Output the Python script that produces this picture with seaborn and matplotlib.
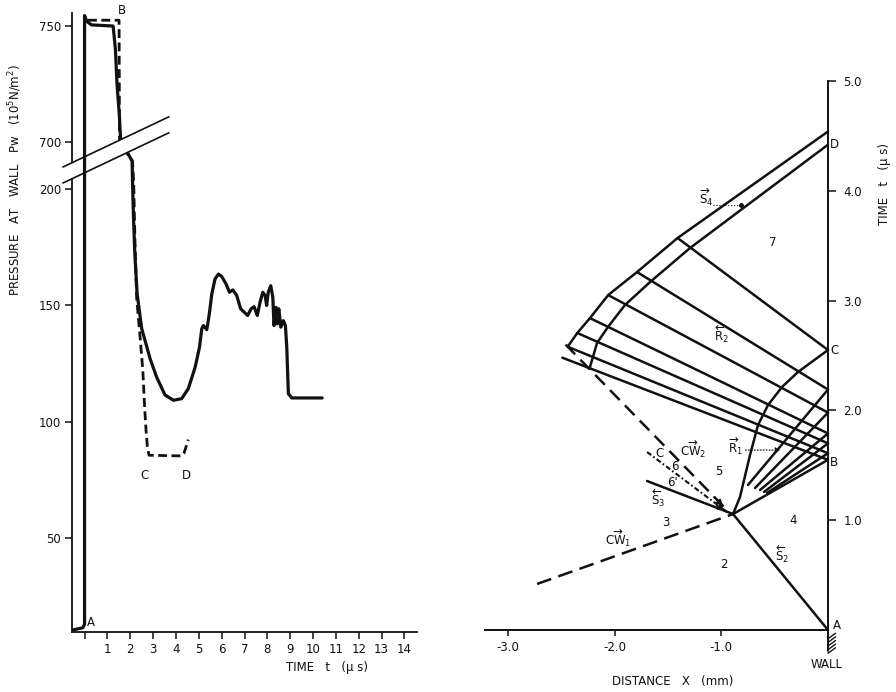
import numpy as np
import matplotlib
matplotlib.use("Agg")
import matplotlib.pyplot as plt
from matplotlib.patches import Polygon
from matplotlib.lines import Line2D
import seaborn as sns

sns.set_theme(style="white")
plt.rcParams["font.family"] = ["DejaVu Sans"]
plt.rcParams["mathtext.fontset"] = "dejavusans"

# ---------------- wall pressure history (left panel) ----------------
t_measured = [-0.55, -0.08, 0.0, 0.0, 0.1, 0.3, 1.25, 1.35, 1.42, 1.52, 1.58, 2.08, 2.1,
              2.14, 2.2, 2.3, 2.5, 2.7, 2.87, 3.16, 3.52, 3.89, 4.25, 4.54, 4.84, 5.03,
              5.13, 5.20, 5.35, 5.46, 5.57, 5.71, 5.86, 6.0, 6.19, 6.34, 6.49, 6.66, 6.83,
              6.99, 7.14, 7.29, 7.42, 7.56, 7.68, 7.80, 7.90, 7.97, 8.04, 8.15, 8.24, 8.29,
              8.38, 8.44, 8.50, 8.59, 8.70, 8.79, 8.85, 8.92, 9.07, 10.4]
p_measured = [10.5, 11.5, 13.0, 754.5, 752.0, 750.5, 750.0, 740.0, 725.0, 712.0, 701.0, 692.0, 205.0,
              188.0, 172.0, 155.0, 140.0, 133.0, 127.0, 119.0, 111.5, 109.2, 109.9, 114.2, 123.4, 132.0,
              139.9, 141.3, 139.5, 146.3, 154.9, 161.3, 163.4, 162.4, 159.2, 155.6, 156.6, 154.2, 148.5,
              147.0, 145.6, 148.5, 149.4, 145.6, 151.3, 155.6, 154.2, 149.9, 155.6, 158.4, 153.4, 141.3,
              149.1, 142.0, 148.5, 140.6, 143.4, 141.3, 132.0, 112.0, 110.2, 110.2]

t_theory = [0.15, 1.51, 1.53, 2.1, 2.15, 2.2, 2.28, 2.43, 2.55, 2.62, 2.69, 2.75, 2.82, 4.25, 4.35, 4.54]
p_theory = [752.5, 752.5, 700.0, 692.0, 203.0, 180.0, 153.0, 136.3, 122.0, 107.8, 96.3, 89.2, 85.6, 85.3, 86.4, 92.3]

pressure_ticks = [50, 100, 150, 200, 700, 750]
time_ticks = list(range(0, 15))
time_ticklabels = [""] + [str(i) for i in range(1, 15)]

# ---------------- x-t wave diagram (right panel) ----------------
s2_x, s2_t = [0.0, -0.89], [0.0, 1.056]
cw1_x, cw1_t = [-2.727, -0.89], [0.419, 1.056]
s3_x, s3_t = [-0.89, -1.696], [1.056, 1.357]
cont_x, cont_t = [-1.696, -0.947], [1.621, 1.075]
cw2_x, cw2_t = [-2.46, -0.965], [2.60, 1.111]
r1_head_x = [-0.89, -0.825, -0.731, -0.656, -0.562, -0.431, -0.281, 0.0]
r1_head_t = [1.056, 1.211, 1.594, 1.867, 2.049, 2.213, 2.350, 2.55]
r1_start_x = [-0.750, -0.684, -0.637, -0.600, -0.572, -0.89]
r1_start_t = [1.321, 1.293, 1.275, 1.257, 1.248, 1.056]
r2_wall_t = [2.55, 2.19, 1.98, 1.79, 1.70, 1.61, 1.55]
r2_far_x = [-1.41, -1.79, -2.06, -2.23, -2.35, -2.44, -2.49]
r2_far_t = [3.57, 3.26, 3.05, 2.84, 2.705, 2.58, 2.48]
outer_x = [-2.44, -2.35, -2.23, -2.06, -1.79, -1.41, 0.0]
outer_t = [2.58, 2.705, 2.842, 3.051, 3.26, 3.57, 4.54]
inner_x = [-2.231, -2.165, -2.062, -1.903, -1.668, -1.293, 0.0]
inner_t = [2.395, 2.614, 2.760, 2.960, 3.169, 3.479, 4.42]
distance_ticks = [-3, -2, -1]
distance_ticklabels = ["-3.0", "-2.0", "-1.0"]
xt_time_ticks = [1, 2, 3, 4, 5]
xt_time_ticklabels = ["1.0", "2.0", "3.0", "4.0", "5.0"]

INK = "#111111"
W, H = 896, 692


def fx(px):
    return px / W


def fy(py):
    return 1 - py / H


# broken pressure axis: 202.6 .. 690.8 squeezed into a narrow gap
LOW_TOP, HIGH_BOT, GAP = 202.6, 690.8, 8.1
SPAN = HIGH_BOT - LOW_TOP


def fwd(v):
    v = np.asarray(v, dtype=float)
    return np.where(v <= LOW_TOP, v,
                    np.where(v >= HIGH_BOT, v - SPAN + GAP,
                             LOW_TOP + (v - LOW_TOP) * GAP / SPAN))


def inv(u):
    u = np.asarray(u, dtype=float)
    return np.where(u <= LOW_TOP, u,
                    np.where(u >= LOW_TOP + GAP, u + SPAN - GAP,
                             LOW_TOP + (u - LOW_TOP) * SPAN / GAP))


def draw(ax, xs, ys, **kw):
    sns.lineplot(x=xs, y=ys, sort=False, estimator=None, ax=ax,
                 color=kw.pop("color", INK), **kw)


fig = plt.figure(figsize=(8.96, 6.92), dpi=100)

# ================= left panel =================
axL = fig.add_axes([fx(72), fy(632), (417 - 72) / W, (632 - 13) / H])
draw(axL, t_theory, p_theory, lw=2.0, linestyle=(0, (3.2, 1.6)), zorder=2)
draw(axL, t_measured, p_measured, lw=2.3, zorder=2.2)
axL.set_yscale("function", functions=(fwd, inv))
axL.set_xlim(-0.55, 14.55)
axL.set_ylim(9.7, 755.6)
axL.set_yticks(pressure_ticks)
axL.set_yticklabels([str(v) for v in pressure_ticks])
axL.set_xticks(time_ticks)
axL.set_xticklabels(time_ticklabels)
axL.yaxis.set_minor_locator(matplotlib.ticker.NullLocator())
for side in ("top", "right"):
    axL.spines[side].set_visible(False)
for side in ("left", "bottom"):
    axL.spines[side].set_color(INK)
    axL.spines[side].set_linewidth(1.3)
axL.tick_params(axis="both", direction="out", length=5, width=1.1, color=INK,
                labelsize=8.5, labelcolor=INK, pad=3, left=True, bottom=True)
axL.grid(False)


def band_up(x):
    return 167 - 0.474 * (x - 63)


def band_lo(x):
    return 183 - 0.474 * (x - 63)


for xa, xb in [(61, 81.8), (87.2, 171)]:
    axL.add_patch(Polygon([(fx(xa), fy(band_up(xa))), (fx(xb), fy(band_up(xb))),
                           (fx(xb), fy(band_lo(xb))), (fx(xa), fy(band_lo(xa)))],
                          closed=True, transform=fig.transFigure, facecolor="white",
                          edgecolor="none", zorder=2.8, clip_on=False))
for f in (band_up, band_lo):
    axL.add_line(Line2D([fx(63), fx(169)], [fy(f(63)), fy(f(169))],
                        transform=fig.transFigure, color=INK, lw=1.2,
                        zorder=3, clip_on=False))

lab = dict(fontsize=8.5, color=INK, ha="center", va="center")
axL.text(0.27, 11, "A", **dict(lab, va="bottom"))
axL.text(1.62, 756.5, "B", clip_on=False, **lab)
axL.text(2.64, 77, "C", **lab)
axL.text(4.45, 77, "D", **lab)

fig.text(fx(15), fy(180), "PRESSURE   AT   WALL   Pw   (10$^5$N/m$^2$)", rotation=90,
         ha="center", va="center", fontsize=8.5, color=INK)
fig.text(fx(327), fy(668), "TIME   t   (\u03bc s)", ha="center", va="center",
         fontsize=8.5, color=INK)

# ================= right panel =================
axR = fig.add_axes([fx(485), fy(630), (828 - 485) / W, (630 - 81) / H])
LW = 1.8
draw(axR, s2_x, s2_t, lw=LW, clip_on=False)
draw(axR, cw1_x, cw1_t, lw=LW, linestyle=(0, (6, 3)))
draw(axR, s3_x, s3_t, lw=LW)
draw(axR, cont_x, cont_t, lw=1.5, linestyle=(0, (2.5, 1.2, 0.8, 1.2)))
draw(axR, cw2_x, cw2_t, lw=LW, linestyle=(0, (5.5, 3)))
draw(axR, r1_head_x, r1_head_t, lw=LW, clip_on=False)
for x0, t0, tw in zip(r1_start_x, r1_start_t, r2_wall_t[1:]):
    draw(axR, [x0, 0.0], [t0, tw], lw=LW, clip_on=False)
for tw, xf, tf in zip(r2_wall_t, r2_far_x, r2_far_t):
    draw(axR, [0.0, xf], [tw, tf], lw=LW, clip_on=False)
draw(axR, outer_x, outer_t, lw=LW, clip_on=False)
draw(axR, inner_x, inner_t, lw=LW, clip_on=False)

arrow = dict(arrowstyle="-|>", color=INK, lw=1.2, mutation_scale=9)
axR.annotate("", xy=(cw2_x[1], cw2_t[1]),
             xytext=(cw2_x[1] - 0.12, cw2_t[1] + 0.118), arrowprops=arrow)
axR.annotate("", xy=(cont_x[1], cont_t[1]),
             xytext=(cont_x[1] - 0.12, cont_t[1] + 0.073), arrowprops=arrow)

axR.set_xlim(-3.215, 0)
axR.set_ylim(0, 5)
axR.set_xticks(distance_ticks)
axR.set_xticklabels(distance_ticklabels)
axR.set_yticks(xt_time_ticks)
axR.set_yticklabels(xt_time_ticklabels)
axR.yaxis.tick_right()
for side in ("top", "left"):
    axR.spines[side].set_visible(False)
for side in ("right", "bottom"):
    axR.spines[side].set_color(INK)
    axR.spines[side].set_linewidth(1.4)
axR.tick_params(axis="x", direction="out", length=4, width=1.1, color=INK,
                labelsize=8.5, labelcolor=INK, pad=4, bottom=True)
axR.tick_params(axis="y", direction="out", length=6, width=1.1, color=INK,
                labelsize=8.5, labelcolor=INK, pad=5, right=True, left=False)
axR.grid(False)

# wall below the origin, with hatching
axR.add_line(Line2D([0, 0], [0, -0.19], color=INK, lw=1.4, clip_on=False))
for k in range(5):
    y0 = -0.05 - 0.033 * k
    axR.add_line(Line2D([0, 0.07], [y0 - 0.03, y0 + 0.02], color=INK, lw=1.0,
                        clip_on=False))

rl = dict(fontsize=8.5, color=INK, ha="center", va="center")
axR.text(-0.975, 0.60, "2", **rl)
axR.text(-1.518, 0.975, "3", **rl)
axR.text(-0.328, 0.993, "4", **rl)
axR.text(-1.022, 1.439, "5", **rl)
axR.text(-0.515, 3.525, "7", **rl)
axR.text(-1.575, 1.61, "C", **rl)
axR.text(-1.434, 1.49, "6", **rl)
axR.text(-1.462, 1.34, "6'", **rl)
axR.text(-1.97, 0.84, r"$\overrightarrow{\mathrm{CW}}_1$", **rl)
axR.text(-0.43, 0.69, r"$\overleftarrow{\mathrm{S}}_2$", **rl)
axR.text(-1.59, 1.20, r"$\overleftarrow{\mathrm{S}}_3$", **rl)
axR.text(-1.26, 1.65, r"$\overrightarrow{\mathrm{CW}}_2$", **rl)
axR.text(-0.87, 1.67, r"$\overrightarrow{\mathrm{R}}_1$", **rl)
axR.text(-1.00, 2.69, r"$\overleftarrow{\mathrm{R}}_2$", **rl)
axR.text(-1.14, 3.94, r"$\overrightarrow{\mathrm{S}}_4$", **rl)
axR.annotate("", xy=(-0.42, 1.639), xytext=(-0.80, 1.639),
             arrowprops=dict(arrowstyle="-|>", color=INK, lw=0.8, ls=":",
                             mutation_scale=7))
axR.add_line(Line2D([-1.08, -0.82], [3.87, 3.87], color=INK, lw=0.8, ls=":"))
axR.plot([-0.82], [3.87], "o", color=INK, ms=2.5)

wl = dict(fontsize=8.5, color=INK, ha="left", va="center")
axR.text(0.05, 0.04, "A", clip_on=False, **wl)
axR.text(0.02, 1.53, "B", clip_on=False, **wl)
axR.text(0.02, 2.55, "C", clip_on=False, **wl)
axR.text(0.02, 4.42, "D", clip_on=False, **wl)

fig.text(fx(827), fy(665), "WALL", ha="center", va="center", fontsize=8.5, color=INK)
fig.text(fx(673), fy(681), "DISTANCE   X   (mm)", ha="center", va="center",
         fontsize=8.5, color=INK)
fig.text(fx(884), fy(184), "TIME   t   (\u03bc s)", rotation=90, ha="center",
         va="center", fontsize=8.5, color=INK)

fig.savefig("out.png", dpi=100, facecolor="white")
